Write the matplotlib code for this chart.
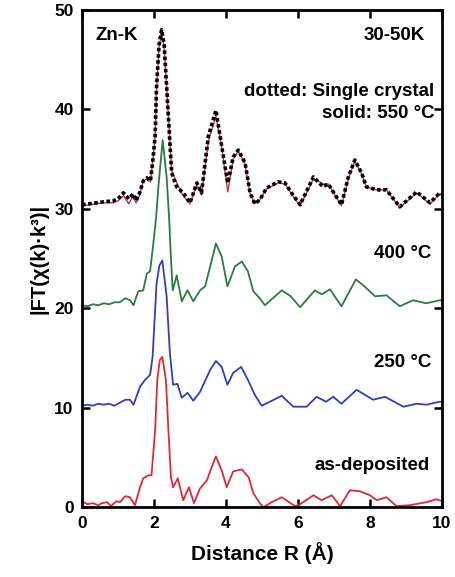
import numpy as np
import matplotlib
matplotlib.use("Agg")
import matplotlib.pyplot as plt

plt.rcParams['font.family'] = ['Liberation Sans', 'DejaVu Sans']
plt.rcParams['font.weight'] = 'bold'

# as-deposited (offset 0)
r_asdep = [0, 0.15, 0.3, 0.45, 0.55, 0.7, 0.8, 0.95, 1.05, 1.2, 1.33, 1.47, 1.61, 1.70,
           1.84, 1.93, 2.03, 2.09, 2.16, 2.23, 2.33, 2.40, 2.47, 2.53, 2.66, 2.81, 2.97,
           3.11, 3.28, 3.47, 3.6, 3.72, 3.88, 4.02, 4.2, 4.44, 4.63, 4.76, 4.94, 5.04,
           5.27, 5.55, 5.92, 6.06, 6.43, 6.66, 6.94, 7.17, 7.44, 7.72, 8.0, 8.19, 8.46,
           8.74, 9.11, 9.57, 9.85, 10]
y_asdep = [0.6, 0.3, 0.4, 0.2, 0.4, 0.5, 0.1, 0.6, 0.5, 1.1, 1.0, 0.2, 2.0, 2.9,
           3.2, 3.2, 7.7, 12.8, 14.8, 15.1, 12.8, 7.7, 3.0, 2.0, 2.9, 0.7, 2.0,
           0.4, 1.9, 2.7, 4.0, 5.1, 3.7, 2.0, 3.6, 3.8, 3.0, 1.4, 0.4, 0.0,
           0.5, 1.0, 0.1, 0.3, 1.2, 0.7, 1.2, 0.1, 1.7, 1.6, 1.2, 0.7, 1.0,
           0.1, 0.2, 0.5, 0.8, 0.6]

# 250 C (offset 10)
r_250 = [0, 0.15, 0.3, 0.45, 0.6, 0.75, 0.9, 1.05, 1.2, 1.33, 1.43, 1.61, 1.75, 1.89,
         1.96, 2.07, 2.15, 2.23, 2.35, 2.44, 2.53, 2.65, 2.77, 2.93, 3.09, 3.28, 3.56,
         3.72, 3.88, 4.04, 4.2, 4.42, 4.61, 4.8, 4.99, 5.22, 5.55, 5.87, 6.24, 6.52,
         6.78, 6.98, 7.21, 7.63, 8.09, 8.42, 8.93, 9.3, 9.57, 9.94, 10]
y_250 = [10.2, 10.3, 10.2, 10.4, 10.3, 10.4, 10.2, 10.5, 10.8, 10.8, 10.3, 12.1, 12.8, 13.3,
         15.1, 22.5, 24.3, 24.8, 21.2, 15.5, 12.3, 12.4, 11.0, 11.5, 10.7, 11.6, 13.8,
         14.7, 14.1, 12.3, 13.5, 14.1, 12.8, 11.3, 10.2, 10.6, 11.2, 10.1, 10.1, 11.1,
         10.6, 11.1, 10.4, 11.8, 10.8, 11.1, 10.1, 10.4, 10.3, 10.6, 10.6]

# 400 C (offset 20)
r_400 = [0, 0.15, 0.3, 0.45, 0.6, 0.75, 0.9, 1.05, 1.2, 1.33, 1.43, 1.56, 1.70, 1.80,
         1.89, 1.98, 2.06, 2.12, 2.24, 2.35, 2.42, 2.47, 2.52, 2.63, 2.77, 2.93, 3.09,
         3.28, 3.42, 3.72, 3.88, 4.04, 4.25, 4.44, 4.61, 4.76, 4.94, 5.08, 5.3, 5.55,
         5.8, 6.06, 6.47, 6.66, 6.89, 7.21, 7.61, 7.85, 8.14, 8.46, 8.83, 9.2, 9.57,
         9.94, 10]
y_400 = [20.3, 20.2, 20.4, 20.3, 20.5, 20.4, 20.6, 20.6, 21.0, 20.8, 20.3, 21.7, 21.8, 23.5,
         23.7, 26.5, 29.2, 32.2, 36.9, 33.2, 29.0, 25.0, 21.8, 23.3, 20.7, 21.8, 20.7,
         21.8, 22.2, 26.5, 25.2, 22.2, 24.2, 24.7, 23.7, 21.7, 21.0, 20.3, 21.0, 21.8,
         21.2, 20.1, 21.8, 21.4, 21.9, 20.2, 22.9, 22.2, 21.2, 21.3, 20.2, 20.8, 20.5,
         20.8, 20.8]

# 550 C (solid) and single crystal (dotted), offset 30
r_top = [0, 0.2, 0.4, 0.6, 0.87, 1.0, 1.15, 1.3, 1.42, 1.5, 1.6, 1.7, 1.8, 1.9, 1.97,
         2.03, 2.07, 2.14, 2.21, 2.28, 2.35, 2.43, 2.49, 2.63, 2.81, 3.0, 3.19, 3.32,
         3.51, 3.72, 3.88, 4.05, 4.2, 4.34, 4.53, 4.67, 4.8, 4.94, 5.13, 5.45, 5.64,
         5.82, 6.06, 6.43, 6.56, 6.7, 6.84, 7.21, 7.4, 7.58, 7.77, 7.9, 8.19, 8.46,
         8.83, 9.3, 9.67, 9.94, 10]
y_crystal = [30.4, 30.5, 30.6, 30.7, 30.8, 31.0, 31.6, 31.0, 31.5, 30.8, 31.6, 32.8, 33.1, 32.8, 35.0,
             37.3, 42.3, 46.5, 48.0, 46.5, 42.3, 37.3, 33.6, 32.2, 31.6, 30.6, 32.6, 31.6,
             37.3, 39.9, 36.3, 32.6, 35.2, 35.9, 34.6, 31.6, 30.5, 30.9, 32.1, 32.7, 32.6,
             31.6, 30.4, 33.2, 32.7, 32.2, 32.5, 30.4, 33.2, 34.9, 33.6, 32.2, 31.9, 31.9,
             30.2, 31.7, 30.6, 31.6, 31.5]
y_550 = [30.3, 30.4, 30.5, 30.6, 30.6, 30.8, 31.3, 30.5, 31.3, 30.6, 31.4, 32.8, 33.0, 32.7, 35.0,
         37.3, 42.0, 46.3, 47.6, 46.3, 42.3, 37.5, 33.8, 32.6, 31.3, 30.5, 32.4, 31.4,
         36.8, 39.3, 36.3, 31.7, 35.0, 35.8, 34.5, 31.5, 30.5, 30.9, 32.0, 32.6, 32.5,
         31.5, 30.3, 33.0, 32.8, 32.5, 32.5, 30.3, 33.0, 34.8, 33.5, 32.2, 31.9, 31.9,
         30.1, 31.6, 30.5, 31.5, 31.4]

fig = plt.figure(figsize=(4.56, 5.77), dpi=100)
ax = fig.add_axes([0.18, 0.121, 0.789, 0.862])

ax.plot(r_asdep, y_asdep, color='#e0283a', lw=1.3)
ax.plot(r_250, y_250, color='#2f3fc0', lw=1.3)
ax.plot(r_400, y_400, color='#2e7a40', lw=1.3)
ax.plot(r_top, y_550, color='#c83040', lw=1.0)
ax.plot(r_top, y_crystal, color='black', lw=2.6, ls=(0, (1, 0.7)))

ax.set_xlim(0, 10)
ax.set_ylim(0, 50)
ax.set_xticks([0, 2, 4, 6, 8, 10])
ax.set_yticks([0, 10, 20, 30, 40, 50])
ax.tick_params(direction='in', length=6, width=1.8, top=True, right=True,
               labelsize=12.5, pad=6)
for lab in ax.get_xticklabels() + ax.get_yticklabels():
    lab.set_fontweight('bold')
for s in ax.spines.values():
    s.set_linewidth(2)

ax.set_xlabel('Distance R (Å)', fontsize=15, fontweight='bold', labelpad=8)
ax.set_ylabel('|FT(χ(k)·k³)|', fontsize=14.5, fontweight='bold', labelpad=4)

kw = dict(fontsize=13.5, fontweight='bold', ha='right', va='baseline')
ax.text(0.36, 47.0, 'Zn-K', fontsize=13.5, fontweight='bold', va='baseline')
ax.text(9.53, 47.0, '30-50K', **kw)
ax.text(9.8, 41.3, 'dotted: Single crystal', **kw)
ax.text(9.8, 39.1, 'solid: 550 °C', **kw)
ax.text(9.72, 25.0, '400 °C', **kw)
ax.text(9.72, 14.1, '250 °C', **kw)
ax.text(9.67, 3.7, 'as-deposited', **kw)

fig.savefig('out.png', dpi=100)
